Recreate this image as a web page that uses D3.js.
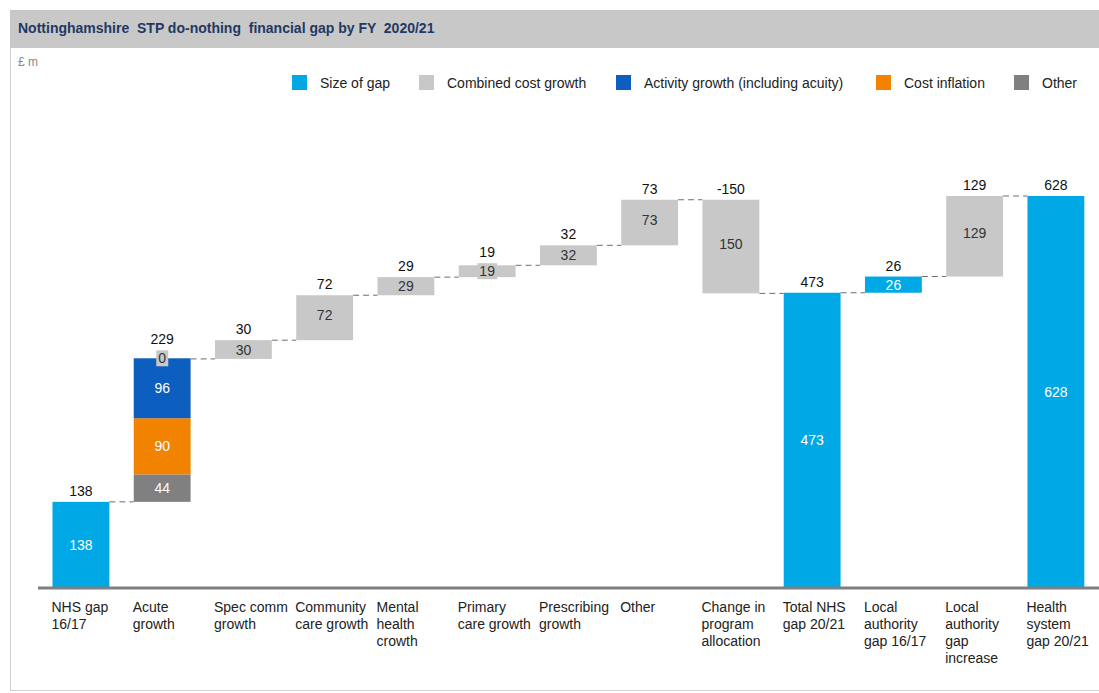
<!DOCTYPE html>
<html>
<head>
<meta charset="utf-8">
<script src="https://cdn.jsdelivr.net/npm/d3@7"></script>
<style>
  html, body { margin: 0; padding: 0; background: #fff; }
  svg { display: block; font-family: "Liberation Sans", Arial, sans-serif; }
</style>
</head>
<body>
<svg id="chart" width="1099" height="693"></svg>
<script>
// ---- data ----
const categories = ["NHS gap 16/17", "Acute growth", "Spec comm growth", "Community care growth",
  "Mental health crowth", "Primary care growth", "Prescribing growth", "Other",
  "Change in program allocation", "Total NHS gap 20/21", "Local authority gap 16/17",
  "Local authority gap increase", "Health system gap 20/21"];
const categoryLines = [["NHS gap", "16/17"], ["Acute", "growth"], ["Spec comm", "growth"],
  ["Community", "care growth"], ["Mental", "health", "crowth"], ["Primary", "care growth"],
  ["Prescribing", "growth"], ["Other"], ["Change in", "program", "allocation"],
  ["Total NHS", "gap 20/21"], ["Local", "authority", "gap 16/17"],
  ["Local", "authority", "gap", "increase"], ["Health", "system", "gap 20/21"]];
const barKinds = ["total", "stack", "delta", "delta", "delta", "delta", "delta", "delta",
  "delta", "total", "delta", "delta", "total"];
const barValues = [138, 229, 30, 72, 29, 19, 32, 73, -150, 473, 26, 129, 628];
const barSeries = ["Size of gap", "Combined cost growth", "Combined cost growth", "Combined cost growth",
  "Combined cost growth", "Combined cost growth", "Combined cost growth", "Combined cost growth",
  "Combined cost growth", "Size of gap", "Size of gap", "Combined cost growth", "Size of gap"];
const acuteSeries = ["Other", "Cost inflation", "Activity growth (including acuity)", "Combined cost growth"];
const acuteValues = [44, 90, 96, 0];
const legendLabels = ["Size of gap", "Combined cost growth", "Activity growth (including acuity)", "Cost inflation", "Other"];
const titleText = "Nottinghamshire  STP do-nothing  financial gap by FY  2020/21";
const unitText = "£ m";

// ---- styles ----
const colors = {
  "Size of gap": "#00a9e6",
  "Combined cost growth": "#c8c8c8",
  "Activity growth (including acuity)": "#0c5fbf",
  "Cost inflation": "#f28300",
  "Other": "#808080"
};
const innerTextColor = {
  "Size of gap": "#ffffff",
  "Combined cost growth": "#333333",
  "Activity growth (including acuity)": "#ffffff",
  "Cost inflation": "#ffffff",
  "Other": "#ffffff"
};
const FS = 14;

const svg = d3.select("#chart");

// frame & title
svg.append("rect").attr("x", 10.5).attr("y", 10.5).attr("width", 1100).attr("height", 680)
  .attr("fill", "none").attr("stroke", "#cfcfcf").attr("stroke-width", 1);
svg.append("rect").attr("x", 10).attr("y", 10).attr("width", 1089).attr("height", 38).attr("fill", "#c8c8c8");
svg.append("text").attr("x", 18).attr("y", 33).attr("font-size", 14).attr("font-weight", "bold")
  .attr("fill", "#1f3864").style("white-space", "pre").attr("xml:space", "preserve").text(titleText);
svg.append("text").attr("x", 18).attr("y", 66).attr("font-size", 12).attr("fill", "#8a8a8a").text(unitText);

// legend
const legendX = [292, 419, 616, 876, 1014];
const lg = svg.append("g");
legendLabels.forEach((l, i) => {
  lg.append("rect").attr("x", legendX[i]).attr("y", 75).attr("width", 15).attr("height", 15).attr("fill", colors[l]);
  lg.append("text").attr("x", legendX[i] + 28).attr("y", 87.5).attr("font-size", FS)
    .attr("fill", "#222").text(l);
});

// scales
const x = d3.scaleBand().domain(categories).range([40.3, 1096.5]).paddingInner(0.3).paddingOuter(0.15);
const y = d3.scaleLinear().domain([0, 628]).range([588, 196]);

// compute geometry
let running = 0;
const bars = [];
categories.forEach((c, i) => {
  const v = barValues[i];
  const kind = barKinds[i];
  let lo, hi, startLevel, endLevel;
  if (kind === "total") {
    lo = 0; hi = v; startLevel = v; endLevel = v; running = v;
  } else if (kind === "stack") {
    lo = running; hi = running + v; startLevel = running; running = running + v; endLevel = running;
  } else {
    const s = running; running = running + v;
    lo = Math.min(s, running); hi = Math.max(s, running); startLevel = s; endLevel = running;
  }
  bars.push({ c, i, v, kind, lo, hi, startLevel, endLevel });
});

const g = svg.append("g");

// connectors
for (let i = 0; i < bars.length - 1; i++) {
  const a = bars[i], b = bars[i + 1];
  const lvl = a.endLevel;
  g.append("line").attr("x1", x(a.c) + x.bandwidth()).attr("x2", x(b.c))
    .attr("y1", y(lvl)).attr("y2", y(lvl))
    .attr("stroke", "#6e6e6e").attr("stroke-width", 1).attr("stroke-dasharray", "6,4");
}

function innerLabel(cx, cy, txt, series, withBox) {
  const t = g.append("text").attr("x", cx).attr("y", cy + 5).attr("text-anchor", "middle")
    .attr("font-size", FS).attr("fill", innerTextColor[series]).text(txt);
  if (withBox) {
    const bb = t.node().getBBox();
    g.insert("rect", () => t.node()).attr("x", bb.x - 2).attr("y", cy - 8)
      .attr("width", bb.width + 4).attr("height", 16).attr("fill", colors[series]);
  }
  return cy - 8;
}

bars.forEach(b => {
  const bx = x(b.c), bw = x.bandwidth(), cx = bx + bw / 2;
  let topY = y(b.hi);
  if (b.kind === "stack") {
    let acc = b.lo;
    acuteValues.forEach((sv, k) => {
      const s = acuteSeries[k];
      const y0 = y(acc), y1 = y(acc + sv);
      g.append("rect").attr("x", bx).attr("y", y1).attr("width", bw).attr("height", y0 - y1).attr("fill", colors[s]);
      acc += sv;
    });
    acc = b.lo;
    let minTop = y(acc);
    acuteValues.forEach((sv, k) => {
      const s = acuteSeries[k];
      const y0 = y(acc), y1 = y(acc + sv);
      const boxTop = innerLabel(cx, (y0 + y1) / 2, sv, s, sv === 0);
      minTop = Math.min(minTop, y1, boxTop);
      acc += sv;
    });
    topY = minTop;
  } else {
    const s = barSeries[b.i];
    g.append("rect").attr("x", bx).attr("y", y(b.hi)).attr("width", bw)
      .attr("height", y(b.lo) - y(b.hi)).attr("fill", colors[s]);
    const isGray = s === "Combined cost growth";
    const boxTop = innerLabel(cx, (y(b.lo) + y(b.hi)) / 2 - (isGray && Math.abs(b.v) > 40 ? 3 : 0),
      Math.abs(b.v), s, isGray);
    topY = Math.min(topY, boxTop);
  }
  g.append("text").attr("x", cx).attr("y", topY - 6).attr("text-anchor", "middle")
    .attr("font-size", FS).attr("fill", "#111").text(b.v);
});

// axis
const axisG = svg.append("g").attr("transform", "translate(0,588)");
axisG.append("line").attr("x1", 38).attr("x2", 1099).attr("y1", 0).attr("y2", 0)
  .attr("stroke", "#7f7f7f").attr("stroke-width", 3);
categories.forEach((c, i) => {
  const t = axisG.append("text").attr("x", x(c) - 1).attr("y", 24).attr("font-size", FS).attr("fill", "#222");
  categoryLines[i].forEach((ln, k) => {
    t.append("tspan").attr("x", x(c) - 1).attr("dy", k === 0 ? 0 : 17).text(ln);
  });
});
</script>
</body>
</html>
